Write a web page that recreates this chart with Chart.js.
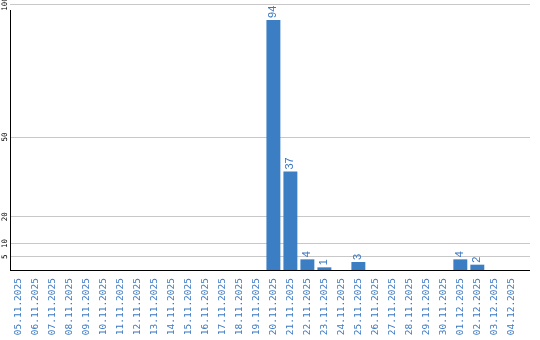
<!DOCTYPE html>
<html>
<head>
<meta charset="utf-8">
<script src="https://cdn.jsdelivr.net/npm/chart.js@4/dist/chart.umd.min.js"></script>
<style>
html,body{margin:0;padding:0;background:#fff;}
#wrap{width:540px;height:340px;}
</style>
</head>
<body>
<div id="wrap"><canvas id="c" width="540" height="340"></canvas></div>
<script>
const categories = ["05.11.2025","06.11.2025","07.11.2025","08.11.2025","09.11.2025","10.11.2025","11.11.2025","12.11.2025","13.11.2025","14.11.2025","15.11.2025","16.11.2025","17.11.2025","18.11.2025","19.11.2025","20.11.2025","21.11.2025","22.11.2025","23.11.2025","24.11.2025","25.11.2025","26.11.2025","27.11.2025","28.11.2025","29.11.2025","30.11.2025","01.12.2025","02.12.2025","03.12.2025","04.12.2025"];
const values = [null,null,null,null,null,null,null,null,null,null,null,null,null,null,null,94,37,4,1,null,3,null,null,null,null,null,4,2,null,null];
const yTicks = [5,10,20,50,100];

const BAR = '#3b7ec4';
const LABEL = '#3a78c2';

const points = values.map((v,i)=>({x:i,y:v}));

const custom = {
  id:'custom',
  afterDraw(chart){
    const ctx = chart.ctx, ca = chart.chartArea;
    const ys = chart.scales.y;
    ctx.save();
    // axis lines
    ctx.strokeStyle = '#000';
    ctx.lineWidth = 1;
    ctx.beginPath();
    ctx.moveTo(ca.left+0.5, ca.top+6);
    ctx.lineTo(ca.left+0.5, ca.bottom);
    ctx.moveTo(ca.left, ca.bottom+0.5);
    ctx.lineTo(ca.right, ca.bottom+0.5);
    ctx.stroke();
    // y labels
    ctx.fillStyle = '#000';
    ctx.font = '7.5px "DejaVu Sans Mono"';
    ctx.textAlign = 'center';
    ctx.textBaseline = 'middle';
    yTicks.forEach(t=>{
      const py = ys.getPixelForValue(t);
      ctx.save();
      ctx.translate(5, py);
      ctx.rotate(-Math.PI/2);
      ctx.fillText(String(t),0,0);
      ctx.restore();
    });
    // data labels
    const meta = chart.getDatasetMeta(0);
    ctx.fillStyle = LABEL;
    ctx.font = '11px "Liberation Sans", Arial, sans-serif';
    ctx.textAlign = 'left';
    ctx.textBaseline = 'middle';
    meta.data.forEach((el,i)=>{
      const v = values[i];
      if (v === null || v === undefined) return;
      ctx.save();
      ctx.translate(el.x, el.y - 2);
      ctx.rotate(-Math.PI/2);
      ctx.fillText(String(v),0,0);
      ctx.restore();
    });
    ctx.restore();
  }
};

new Chart(document.getElementById('c'), {
  type:'bar',
  data:{
    datasets:[{
      data: points,
      backgroundColor: BAR,
      borderWidth: 0,
      categoryPercentage: 1,
      barPercentage: 0.82
    }]
  },
  options:{
    responsive:false,
    animation:false,
    layout:{padding:{left:10,right:10,top:4,bottom:0}},
    plugins:{legend:{display:false},tooltip:{enabled:false}},
    scales:{
      x:{
        type:'linear',
        min:-0.5,
        max:30.1,
        offset:false,
        grid:{display:false,drawTicks:false},
        border:{display:false},
        afterBuildTicks(scale){
          scale.ticks = categories.map((c,i)=>({value:i}));
        },
        afterFit(scale){ scale.height = 70; },
        ticks:{
          autoSkip:false,
          minRotation:90,
          maxRotation:90,
          padding:8,
          color:LABEL,
          font:{family:'"DejaVu Sans Mono", monospace', size:9.5},
          callback:(v)=>categories[v]
        }
      },
      y:{
        min:0,
        max:100,
        afterBuildTicks(scale){
          scale.ticks = yTicks.map(v=>({value:v}));
        },
        afterFit(scale){ scale.width = 0; },
        grid:{color:'#c8c8c8',lineWidth:1,drawTicks:false},
        border:{display:false},
        ticks:{display:false}
      }
    }
  },
  plugins:[custom]
});
</script>
</body>
</html>
